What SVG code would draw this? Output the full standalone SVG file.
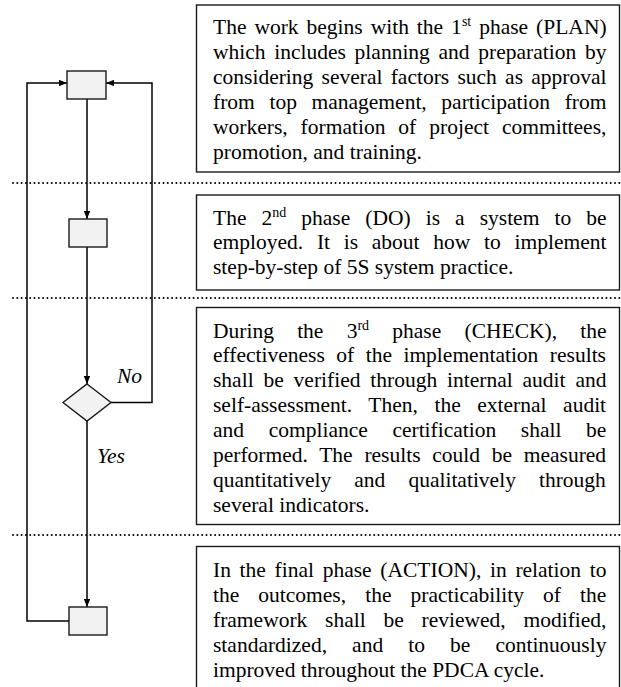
<svg xmlns="http://www.w3.org/2000/svg" width="621" height="687" viewBox="0 0 621 687">
<style>
.frame{fill:#ffffff;stroke:#1a1a1a;stroke-width:1.4}
.node{fill:#f2f2f2;stroke:#1a1a1a;stroke-width:1.4}
.conn{fill:none;stroke:#000;stroke-width:1.5}
.dot{fill:none;stroke:#000;stroke-width:2;stroke-linecap:round;stroke-dasharray:0 4.3}
.t{font-family:"Liberation Serif","Times New Roman",serif;font-size:21.5px;fill:#000}
.lbl{font-family:"Liberation Serif","Times New Roman",serif;font-size:21.5px;font-style:italic;fill:#000}
</style>
<defs>
<marker id="arr" viewBox="0 0 10 8" refX="10" refY="4" markerWidth="8" markerHeight="6.4" markerUnits="userSpaceOnUse" orient="auto">
<path d="M0,0 L10,4 L0,8 Z" fill="#000"/>
</marker>
</defs>
<rect width="621" height="687" fill="#fff"/>

<g id="separators">
<line class="dot" x1="13" y1="183" x2="621" y2="183"/>
<line class="dot" x1="13" y1="298" x2="621" y2="298"/>
<line class="dot" x1="13" y1="535" x2="621" y2="535"/>
</g>

<g id="connectors">
<line class="conn" x1="87" y1="99" x2="87" y2="219" marker-end="url(#arr)"/>
<line class="conn" x1="87" y1="247" x2="87" y2="384" marker-end="url(#arr)"/>
<line class="conn" x1="87" y1="421" x2="87" y2="607" marker-end="url(#arr)"/>
<polyline class="conn" points="111,402.5 152,402.5 152,83 106,83" marker-end="url(#arr)"/>
<polyline class="conn" points="69,621 27,621 27,83 67,83" marker-end="url(#arr)"/>
<text class="lbl" x="117" y="383">No</text>
<text class="lbl" x="97" y="463">Yes</text>
</g>

<g id="plan-step"><rect class="node" x="67" y="71" width="39" height="28"/></g>
<g id="do-step"><rect class="node" x="69" y="219" width="38" height="28"/></g>
<g id="check-decision"><polygon class="node" points="87,384 111,402.5 87,421 63,402.5"/></g>
<g id="action-step"><rect class="node" x="69" y="607" width="38" height="28"/></g>

<g id="plan-text">
<rect class="frame" x="196.5" y="5" width="423" height="167"/>
<text class="t" x="213" y="34" word-spacing="2.6">The work begins with the 1<tspan font-size="14" dy="-8">st</tspan><tspan dy="8"> phase (PLAN)</tspan></text>
<text class="t" x="213" y="59" word-spacing="3.34">which includes planning and preparation by</text>
<text class="t" x="213" y="84" word-spacing="2.88">considering several factors such as approval</text>
<text class="t" x="213" y="109" word-spacing="9.25">from top management, participation from</text>
<text class="t" x="213" y="134" word-spacing="7.6">workers, formation of project committees,</text>
<text class="t" x="213" y="159">promotion, and training.</text>
</g>

<g id="do-text">
<rect class="frame" x="196.5" y="195" width="423" height="95"/>
<text class="t" x="213" y="224.5" word-spacing="9.67">The 2<tspan font-size="14" dy="-8">nd</tspan><tspan dy="8"> phase (DO) is a system to be</tspan></text>
<text class="t" x="213" y="249" word-spacing="8.35">employed. It is about how to implement</text>
<text class="t" x="213" y="273.5">step-by-step of 5S system practice.</text>
</g>

<g id="check-text">
<rect class="frame" x="196.5" y="307.5" width="423" height="217"/>
<text class="t" x="213" y="337.5" word-spacing="17.86">During the 3<tspan font-size="14" dy="-8">rd</tspan><tspan dy="8"> phase (CHECK), the</tspan></text>
<text class="t" x="213" y="362.4" word-spacing="6.1">effectiveness of the implementation results</text>
<text class="t" x="213" y="387.3" word-spacing="4.48">shall be verified through internal audit and</text>
<text class="t" x="213" y="412.2" word-spacing="11.2">self-assessment. Then, the external audit</text>
<text class="t" x="213" y="437.1" word-spacing="19.25">and compliance certification shall be</text>
<text class="t" x="213" y="462" word-spacing="6.34">performed. The results could be measured</text>
<text class="t" x="213" y="486.9" word-spacing="17.7">quantitatively and qualitatively through</text>
<text class="t" x="213" y="511.8">several indicators.</text>
</g>

<g id="action-text">
<rect class="frame" x="196.5" y="546.5" width="423" height="160"/>
<text class="t" x="213" y="577" word-spacing="3.33">In the final phase (ACTION), in relation to</text>
<text class="t" x="213" y="601.9" word-spacing="13.7">the outcomes, the practicability of the</text>
<text class="t" x="213" y="626.8" word-spacing="12.4">framework shall be reviewed, modified,</text>
<text class="t" x="213" y="651.7" word-spacing="19.7">standardized, and to be continuously</text>
<text class="t" x="213" y="676.6">improved throughout the PDCA cycle.</text>
</g>
</svg>
